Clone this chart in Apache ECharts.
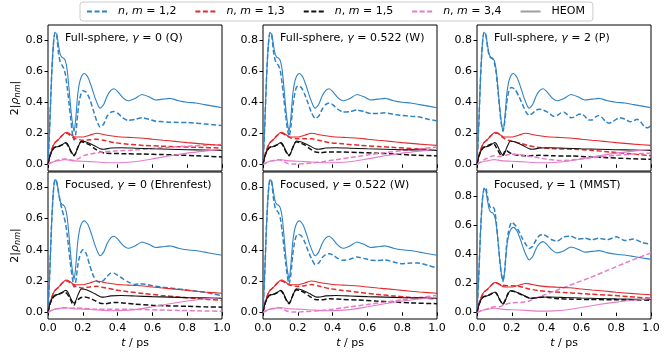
<!DOCTYPE html>
<html>
<head>
<meta charset="utf-8">
<script src="https://cdn.jsdelivr.net/npm/echarts@6/dist/echarts.min.js"></script>
<style>
  html, body { margin: 0; padding: 0; background: #fff; }
  #chart { width: 668px; height: 360px; }
</style>
</head>
<body>
<div id="chart"></div>
<script>
// tick labels
var xTicks = [0, 0.2, 0.4, 0.6, 0.8, 1.0];
var yTicks = [0, 0.2, 0.4, 0.6, 0.8];

// HEOM reference (solid, same in every panel), [t / ps, 2|rho_nm|]
var heom12 = [[0,0],[0.01,0.25],[0.02,0.55],[0.03,0.76],[0.04,0.85],[0.05,0.84],[0.06,0.77],[0.07,0.71],[0.08,0.69],[0.09,0.685],[0.10,0.665],[0.11,0.61],[0.12,0.5],[0.13,0.37],[0.14,0.27],[0.15,0.21],[0.16,0.3],[0.17,0.44],[0.18,0.52],[0.19,0.56],[0.20,0.58],[0.21,0.585],[0.23,0.56],[0.25,0.5],[0.27,0.43],[0.29,0.375],[0.30,0.362],[0.32,0.385],[0.34,0.44],[0.36,0.475],[0.38,0.487],[0.40,0.47],[0.43,0.43],[0.46,0.41],[0.50,0.425],[0.54,0.45],[0.58,0.435],[0.62,0.415],[0.66,0.42],[0.70,0.425],[0.75,0.41],[0.80,0.40],[0.85,0.395],[0.90,0.385],[0.95,0.375],[1.0,0.365]];
var heom13 = [[0,0],[0.01,0.05],[0.02,0.09],[0.03,0.12],[0.04,0.14],[0.06,0.16],[0.08,0.185],[0.10,0.205],[0.11,0.207],[0.12,0.2],[0.13,0.193],[0.14,0.185],[0.15,0.178],[0.17,0.176],[0.20,0.176],[0.24,0.188],[0.28,0.2],[0.30,0.197],[0.34,0.187],[0.40,0.178],[0.46,0.174],[0.53,0.17],[0.60,0.162],[0.66,0.155],[0.73,0.148],[0.80,0.14],[0.90,0.13],[1.0,0.122]];
var heom15 = [[0,0],[0.01,0.05],[0.02,0.08],[0.03,0.10],[0.04,0.11],[0.06,0.115],[0.08,0.125],[0.10,0.14],[0.11,0.135],[0.12,0.115],[0.13,0.09],[0.14,0.07],[0.15,0.058],[0.16,0.075],[0.17,0.105],[0.18,0.13],[0.19,0.15],[0.21,0.147],[0.24,0.135],[0.27,0.118],[0.30,0.1],[0.32,0.097],[0.36,0.105],[0.42,0.107],[0.50,0.104],[0.60,0.1],[0.70,0.097],[0.80,0.094],[0.90,0.092],[1.0,0.09]];
var heom34 = [[0,0],[0.02,0.012],[0.04,0.02],[0.06,0.022],[0.08,0.028],[0.10,0.03],[0.12,0.027],[0.15,0.022],[0.20,0.02],[0.28,0.015],[0.36,0.01],[0.44,0.012],[0.52,0.02],[0.60,0.035],[0.70,0.055],[0.80,0.072],[0.90,0.085],[1.0,0.096]];

// Full-sphere, gamma = 0 (Q)
var fsQ12 = [[0,0],[0.01,0.25],[0.02,0.55],[0.03,0.76],[0.04,0.85],[0.05,0.83],[0.06,0.72],[0.07,0.66],[0.08,0.64],[0.09,0.62],[0.10,0.58],[0.11,0.5],[0.12,0.4],[0.13,0.3],[0.14,0.2],[0.15,0.155],[0.16,0.2],[0.17,0.32],[0.18,0.41],[0.19,0.455],[0.20,0.475],[0.22,0.465],[0.24,0.42],[0.26,0.35],[0.28,0.28],[0.30,0.24],[0.32,0.26],[0.34,0.31],[0.36,0.335],[0.38,0.34],[0.40,0.33],[0.43,0.3],[0.46,0.283],[0.50,0.29],[0.54,0.3],[0.58,0.29],[0.62,0.277],[0.66,0.275],[0.70,0.272],[0.75,0.27],[0.80,0.27],[0.85,0.265],[0.90,0.26],[0.95,0.255],[1.0,0.25]];
var fsQ13 = [[0,0],[0.01,0.05],[0.02,0.09],[0.03,0.12],[0.04,0.14],[0.06,0.16],[0.08,0.185],[0.10,0.2],[0.11,0.2],[0.12,0.193],[0.14,0.175],[0.16,0.165],[0.20,0.155],[0.24,0.158],[0.28,0.162],[0.32,0.155],[0.38,0.14],[0.46,0.13],[0.55,0.122],[0.65,0.117],[0.75,0.113],[0.85,0.11],[1.0,0.105]];
var fsQ15 = [[0,0],[0.01,0.05],[0.02,0.08],[0.03,0.1],[0.04,0.11],[0.06,0.115],[0.08,0.125],[0.10,0.138],[0.11,0.13],[0.12,0.11],[0.13,0.085],[0.14,0.065],[0.15,0.055],[0.16,0.075],[0.17,0.105],[0.18,0.13],[0.19,0.145],[0.21,0.14],[0.24,0.125],[0.27,0.1],[0.30,0.08],[0.33,0.072],[0.38,0.07],[0.45,0.068],[0.55,0.066],[0.65,0.063],[0.75,0.06],[0.85,0.055],[1.0,0.048]];
var fsQ34 = [[0,0],[0.02,0.012],[0.04,0.022],[0.06,0.028],[0.08,0.033],[0.10,0.035],[0.12,0.03],[0.15,0.025],[0.18,0.04],[0.21,0.058],[0.26,0.07],[0.32,0.08],[0.40,0.087],[0.47,0.09],[0.55,0.097],[0.62,0.104],[0.70,0.11],[0.80,0.117],[0.90,0.123],[1.0,0.128]];

// Full-sphere, gamma = 0.522 (W)
var fsW12 = [[0,0],[0.01,0.25],[0.02,0.55],[0.03,0.76],[0.04,0.85],[0.05,0.83],[0.06,0.73],[0.07,0.67],[0.08,0.65],[0.09,0.635],[0.10,0.6],[0.11,0.52],[0.12,0.42],[0.13,0.32],[0.14,0.23],[0.15,0.18],[0.16,0.24],[0.17,0.36],[0.18,0.44],[0.19,0.49],[0.20,0.505],[0.22,0.495],[0.24,0.45],[0.26,0.39],[0.28,0.33],[0.30,0.295],[0.32,0.31],[0.34,0.355],[0.36,0.385],[0.38,0.395],[0.40,0.385],[0.43,0.355],[0.46,0.337],[0.50,0.34],[0.54,0.35],[0.58,0.34],[0.62,0.327],[0.66,0.328],[0.70,0.332],[0.75,0.322],[0.80,0.315],[0.85,0.31],[0.90,0.305],[0.95,0.29],[1.0,0.28]];
var fsW13 = [[0,0],[0.01,0.05],[0.02,0.09],[0.03,0.12],[0.04,0.14],[0.06,0.16],[0.08,0.185],[0.10,0.2],[0.11,0.2],[0.12,0.195],[0.14,0.18],[0.16,0.17],[0.20,0.165],[0.24,0.165],[0.28,0.165],[0.32,0.155],[0.38,0.14],[0.46,0.132],[0.56,0.122],[0.66,0.115],[0.76,0.108],[0.88,0.1],[1.0,0.093]];
var fsW15 = [[0,0],[0.01,0.05],[0.02,0.08],[0.03,0.1],[0.04,0.11],[0.06,0.115],[0.08,0.125],[0.10,0.138],[0.11,0.13],[0.12,0.11],[0.13,0.085],[0.14,0.065],[0.15,0.055],[0.16,0.075],[0.17,0.105],[0.18,0.13],[0.19,0.145],[0.21,0.14],[0.24,0.125],[0.27,0.1],[0.30,0.08],[0.33,0.075],[0.38,0.08],[0.45,0.08],[0.55,0.076],[0.65,0.072],[0.75,0.067],[0.85,0.06],[1.0,0.054]];
var fsW34 = [[0,0],[0.02,0.01],[0.04,0.02],[0.06,0.025],[0.08,0.03],[0.10,0.028],[0.12,0.018],[0.14,0.006],[0.17,0.002],[0.22,0.003],[0.28,0.008],[0.35,0.018],[0.42,0.03],[0.50,0.043],[0.60,0.06],[0.70,0.075],[0.80,0.088],[0.90,0.1],[1.0,0.112]];

// Full-sphere, gamma = 2 (P)
var fsP12 = [[0,0],[0.01,0.25],[0.02,0.55],[0.03,0.76],[0.04,0.85],[0.05,0.84],[0.06,0.76],[0.07,0.70],[0.08,0.685],[0.09,0.68],[0.10,0.655],[0.11,0.59],[0.12,0.48],[0.13,0.36],[0.14,0.26],[0.15,0.215],[0.16,0.28],[0.17,0.39],[0.18,0.46],[0.19,0.49],[0.20,0.495],[0.22,0.48],[0.24,0.44],[0.26,0.39],[0.28,0.34],[0.30,0.315],[0.32,0.33],[0.34,0.35],[0.36,0.355],[0.38,0.35],[0.40,0.34],[0.42,0.325],[0.44,0.31],[0.46,0.315],[0.48,0.33],[0.50,0.335],[0.52,0.32],[0.54,0.3],[0.56,0.305],[0.58,0.32],[0.60,0.325],[0.62,0.31],[0.64,0.285],[0.66,0.285],[0.68,0.305],[0.70,0.315],[0.72,0.3],[0.74,0.275],[0.76,0.265],[0.78,0.275],[0.80,0.29],[0.82,0.3],[0.84,0.295],[0.86,0.285],[0.88,0.275],[0.90,0.28],[0.92,0.29],[0.94,0.275],[0.96,0.245],[0.98,0.235],[1.0,0.25]];
var fsP13 = [[0,0],[0.01,0.05],[0.02,0.09],[0.03,0.12],[0.04,0.14],[0.06,0.16],[0.08,0.185],[0.10,0.2],[0.12,0.2],[0.14,0.18],[0.16,0.165],[0.18,0.155],[0.21,0.145],[0.25,0.135],[0.30,0.12],[0.36,0.108],[0.45,0.1],[0.56,0.097],[0.66,0.09],[0.76,0.08],[0.88,0.068],[1.0,0.055]];
var fsP15 = [[0,0],[0.01,0.05],[0.02,0.08],[0.03,0.1],[0.04,0.11],[0.06,0.12],[0.08,0.13],[0.09,0.135],[0.10,0.13],[0.11,0.11],[0.12,0.09],[0.13,0.07],[0.14,0.055],[0.15,0.06],[0.16,0.085],[0.17,0.09],[0.18,0.08],[0.20,0.068],[0.24,0.058],[0.30,0.055],[0.36,0.058],[0.44,0.055],[0.55,0.053],[0.65,0.048],[0.75,0.043],[0.87,0.037],[1.0,0.032]];
var fsP34 = [[0,0],[0.02,0.015],[0.04,0.03],[0.06,0.04],[0.08,0.05],[0.10,0.055],[0.13,0.05],[0.16,0.058],[0.20,0.065],[0.24,0.063],[0.28,0.055],[0.34,0.045],[0.40,0.033],[0.47,0.025],[0.54,0.027],[0.62,0.038],[0.70,0.048],[0.80,0.058],[0.90,0.066],[1.0,0.073]];

// Focused, gamma = 0 (Ehrenfest)
var foE12 = [[0,0],[0.01,0.25],[0.02,0.55],[0.03,0.76],[0.04,0.85],[0.05,0.83],[0.06,0.77],[0.07,0.71],[0.08,0.66],[0.09,0.62],[0.10,0.575],[0.11,0.5],[0.12,0.4],[0.13,0.3],[0.14,0.22],[0.15,0.16],[0.16,0.2],[0.17,0.29],[0.18,0.35],[0.19,0.385],[0.20,0.4],[0.22,0.375],[0.24,0.3],[0.26,0.235],[0.28,0.2],[0.30,0.19],[0.32,0.205],[0.34,0.23],[0.36,0.25],[0.38,0.25],[0.40,0.237],[0.43,0.215],[0.46,0.195],[0.50,0.178],[0.53,0.183],[0.56,0.18],[0.60,0.17],[0.66,0.16],[0.72,0.153],[0.78,0.145],[0.84,0.137],[0.90,0.128],[0.95,0.118],[1.0,0.105]];
var foE13 = [[0,0],[0.01,0.05],[0.02,0.09],[0.03,0.12],[0.04,0.14],[0.06,0.16],[0.08,0.185],[0.10,0.2],[0.11,0.2],[0.12,0.195],[0.14,0.178],[0.16,0.165],[0.20,0.155],[0.24,0.162],[0.28,0.167],[0.32,0.158],[0.38,0.145],[0.46,0.132],[0.55,0.12],[0.65,0.108],[0.75,0.098],[0.85,0.088],[1.0,0.077]];
var foE15 = [[0,0],[0.01,0.05],[0.02,0.075],[0.03,0.095],[0.04,0.105],[0.06,0.115],[0.08,0.125],[0.09,0.13],[0.10,0.128],[0.11,0.118],[0.12,0.1],[0.13,0.08],[0.14,0.055],[0.15,0.045],[0.16,0.07],[0.17,0.08],[0.19,0.095],[0.21,0.098],[0.24,0.09],[0.27,0.075],[0.30,0.058],[0.33,0.055],[0.38,0.063],[0.43,0.06],[0.50,0.052],[0.60,0.045],[0.70,0.041],[0.80,0.038],[0.90,0.035],[1.0,0.033]];
var foE34 = [[0,0],[0.02,0.012],[0.04,0.02],[0.06,0.024],[0.08,0.027],[0.10,0.028],[0.13,0.026],[0.16,0.028],[0.20,0.025],[0.28,0.02],[0.40,0.02],[0.52,0.018],[0.64,0.015],[0.76,0.012],[0.88,0.009],[1.0,0.006]];

// Focused, gamma = 0.522 (W)
var foW12 = [[0,0],[0.01,0.25],[0.02,0.55],[0.03,0.76],[0.04,0.85],[0.05,0.83],[0.06,0.73],[0.07,0.67],[0.08,0.65],[0.09,0.635],[0.10,0.6],[0.11,0.52],[0.12,0.42],[0.13,0.32],[0.14,0.23],[0.15,0.18],[0.16,0.24],[0.17,0.36],[0.18,0.44],[0.19,0.485],[0.20,0.5],[0.22,0.49],[0.24,0.45],[0.26,0.39],[0.28,0.34],[0.30,0.305],[0.32,0.315],[0.34,0.35],[0.36,0.37],[0.38,0.375],[0.40,0.368],[0.43,0.345],[0.46,0.333],[0.50,0.34],[0.54,0.354],[0.58,0.345],[0.62,0.333],[0.66,0.332],[0.70,0.335],[0.75,0.322],[0.80,0.311],[0.85,0.315],[0.89,0.316],[0.95,0.3],[1.0,0.283]];
var foW13 = [[0,0],[0.01,0.05],[0.02,0.09],[0.03,0.12],[0.04,0.14],[0.06,0.16],[0.08,0.185],[0.10,0.2],[0.11,0.2],[0.12,0.195],[0.14,0.18],[0.16,0.172],[0.20,0.165],[0.24,0.17],[0.28,0.178],[0.32,0.168],[0.38,0.152],[0.46,0.14],[0.55,0.128],[0.65,0.115],[0.75,0.105],[0.85,0.095],[1.0,0.085]];
var foW15 = [[0,0],[0.01,0.05],[0.02,0.08],[0.03,0.1],[0.04,0.11],[0.06,0.115],[0.08,0.125],[0.10,0.138],[0.11,0.13],[0.12,0.11],[0.13,0.085],[0.14,0.065],[0.15,0.055],[0.16,0.075],[0.17,0.105],[0.18,0.13],[0.19,0.145],[0.21,0.14],[0.24,0.125],[0.27,0.1],[0.30,0.082],[0.34,0.08],[0.38,0.087],[0.45,0.083],[0.55,0.078],[0.65,0.072],[0.75,0.066],[0.85,0.06],[1.0,0.055]];
var foW34 = [[0,0],[0.02,0.01],[0.04,0.02],[0.06,0.025],[0.08,0.03],[0.10,0.028],[0.12,0.018],[0.14,0.006],[0.17,0.002],[0.22,0.003],[0.30,0.008],[0.40,0.02],[0.50,0.035],[0.60,0.05],[0.70,0.065],[0.80,0.08],[0.90,0.095],[1.0,0.108]];

// Focused, gamma = 1 (MMST)
var foM12 = [[0,0],[0.01,0.25],[0.02,0.55],[0.03,0.76],[0.04,0.85],[0.05,0.86],[0.06,0.8],[0.07,0.74],[0.08,0.72],[0.09,0.725],[0.10,0.71],[0.11,0.63],[0.12,0.5],[0.13,0.37],[0.14,0.26],[0.15,0.22],[0.16,0.3],[0.17,0.46],[0.18,0.55],[0.19,0.6],[0.20,0.62],[0.22,0.6],[0.24,0.56],[0.26,0.51],[0.28,0.47],[0.30,0.44],[0.32,0.455],[0.34,0.5],[0.36,0.53],[0.38,0.535],[0.40,0.525],[0.43,0.5],[0.46,0.49],[0.50,0.52],[0.54,0.525],[0.58,0.505],[0.62,0.51],[0.66,0.5],[0.70,0.51],[0.75,0.5],[0.80,0.52],[0.85,0.495],[0.90,0.505],[0.95,0.48],[1.0,0.47]];
var foM13 = [[0,0],[0.01,0.05],[0.02,0.09],[0.03,0.12],[0.04,0.14],[0.06,0.16],[0.08,0.185],[0.10,0.205],[0.12,0.2],[0.14,0.19],[0.17,0.185],[0.20,0.185],[0.25,0.178],[0.30,0.162],[0.36,0.15],[0.42,0.144],[0.50,0.138],[0.58,0.132],[0.66,0.126],[0.75,0.12],[0.87,0.11],[1.0,0.098]];
var foM15 = [[0,0],[0.01,0.05],[0.02,0.08],[0.03,0.1],[0.04,0.11],[0.06,0.115],[0.08,0.128],[0.10,0.142],[0.11,0.135],[0.12,0.115],[0.13,0.09],[0.14,0.07],[0.15,0.06],[0.16,0.08],[0.17,0.11],[0.18,0.135],[0.19,0.15],[0.21,0.147],[0.24,0.13],[0.27,0.115],[0.30,0.1],[0.33,0.1],[0.38,0.107],[0.45,0.097],[0.55,0.092],[0.65,0.09],[0.80,0.088],[1.0,0.085]];
var foM34 = [[0,0],[0.02,0.01],[0.04,0.018],[0.06,0.025],[0.08,0.035],[0.10,0.04],[0.13,0.04],[0.16,0.055],[0.20,0.067],[0.25,0.07],[0.30,0.08],[0.35,0.105],[0.45,0.15],[0.56,0.2],[0.65,0.24],[0.75,0.29],[0.85,0.34],[1.0,0.41]];

var pairNames = ['n,m=1,2', 'n,m=1,3', 'n,m=1,5', 'n,m=3,4'];
var pairLabels = ['1,2', '1,3', '1,5', '3,4'];
var colors = ['#2f83c5', '#e4292b', '#111111', '#e67cc6'];

var panels = [
  { title: 'Full-sphere, {i|γ} = 0 (Q)', dashed: [fsQ12, fsQ13, fsQ15, fsQ34], ymin: -0.043, ymax: 0.898 },
  { title: 'Full-sphere, {i|γ} = 0.522 (W)', dashed: [fsW12, fsW13, fsW15, fsW34], ymin: -0.043, ymax: 0.898 },
  { title: 'Full-sphere, {i|γ} = 2 (P)', dashed: [fsP12, fsP13, fsP15, fsP34], ymin: -0.043, ymax: 0.898 },
  { title: 'Focused, {i|γ} = 0 (Ehrenfest)', dashed: [foE12, foE13, foE15, foE34], ymin: -0.043, ymax: 0.898 },
  { title: 'Focused, {i|γ} = 0.522 (W)', dashed: [foW12, foW13, foW15, foW34], ymin: -0.043, ymax: 0.898 },
  { title: 'Focused, {i|γ} = 1 (MMST)', dashed: [foM12, foM13, foM15, foM34], ymin: -0.044, ymax: 0.965 }
];
var heom = [heom12, heom13, heom15, heom34];

var colLeft = [48, 263, 477];
var rowTop = [25, 172];
var rowH = [146, 147];
var font = 'DejaVu Sans';
var italic = { fontStyle: 'italic', fontFamily: font, fontSize: 11, color: '#000' };

var grids = [], xAxes = [], yAxes = [], titles = [], series = [];

// dummy series so that the legend shows a grey HEOM entry
series.push({ name: 'HEOM', type: 'line', xAxisIndex: 0, yAxisIndex: 0, data: [], symbol: 'none',
  lineStyle: { color: '#9e9e9e', width: 1.2 }, itemStyle: { color: '#9e9e9e' } });

panels.forEach(function (p, k) {
  var r = Math.floor(k / 3), c = k % 3;
  grids.push({ left: colLeft[c], top: rowTop[r], width: 174, height: rowH[r],
    show: true, borderColor: '#000', borderWidth: 1, backgroundColor: 'transparent' });
  xAxes.push({
    gridIndex: k, type: 'value', min: 0, max: 1, interval: 0.2,
    axisLine: { show: false },
    axisTick: { show: true, length: 3.5, lineStyle: { color: '#000', width: 1 } },
    axisLabel: { show: r === 1, margin: 4, color: '#000', fontSize: 11, fontFamily: font,
      formatter: function (v) { return v.toFixed(1); } },
    splitLine: { show: false },
    name: r === 1 ? '{i|t} / ps' : '',
    nameLocation: 'middle', nameGap: 19,
    nameTextStyle: { color: '#000', fontSize: 11, fontFamily: font, rich: { i: italic } }
  });
  yAxes.push({
    gridIndex: k, type: 'value', min: p.ymin, max: p.ymax,
    axisLine: { show: false },
    axisTick: { show: true, length: 3.5, customValues: yTicks, lineStyle: { color: '#000', width: 1 } },
    axisLabel: { margin: 5, color: '#000', fontSize: 11, fontFamily: font, customValues: yTicks,
      formatter: function (v) { return v.toFixed(1); } },
    splitLine: { show: false },
    name: c === 0 ? '2|{i|ρ}{s|nm}|' : '',
    nameLocation: 'middle', nameRotate: 90, nameGap: 26,
    nameTextStyle: { color: '#000', fontSize: 11, fontFamily: font,
      rich: { i: italic, s: { fontStyle: 'italic', fontFamily: font, fontSize: 8, color: '#000', padding: [4, 0, 0, 0] } } }
  });
  titles.push({
    text: p.title, left: colLeft[c] + 17, top: rowTop[r] + 8, padding: 0,
    textStyle: { fontSize: 11, fontWeight: 'normal', fontFamily: font, color: '#000', rich: { i: italic } }
  });
  for (var s = 0; s < 4; s++) {
    series.push({
      name: pairNames[s], type: 'line', xAxisIndex: k, yAxisIndex: k, data: p.dashed[s],
      symbol: 'none', smooth: 0.2, z: 2,
      lineStyle: { color: colors[s], width: 1.5, type: [5, 2.5] }, itemStyle: { color: colors[s] }
    });
  }
  for (var h = 0; h < 4; h++) {
    series.push({
      name: 'HEOM ' + pairLabels[h], type: 'line', xAxisIndex: k, yAxisIndex: k, data: heom[h],
      symbol: 'none', smooth: 0.2, z: 3,
      lineStyle: { color: colors[h], width: 1.1 }, itemStyle: { color: colors[h] }
    });
  }
});

var chart = echarts.init(document.getElementById('chart'), null, { renderer: 'canvas' });
chart.setOption({
  animation: false,
  backgroundColor: '#fff',
  title: titles,
  legend: {
    left: 80, top: 2, itemWidth: 20, itemHeight: 8, itemGap: 18,
    borderColor: '#cccccc', borderWidth: 1, borderRadius: 3, padding: [4, 8, 4, 6],
    data: pairNames.concat(['HEOM']),
    itemStyle: { opacity: 0, borderWidth: 0 },
    formatter: function (name) {
      var i = pairNames.indexOf(name);
      if (i < 0) return name;
      return '{i|n}, {i|m} = ' + pairLabels[i];
    },
    textStyle: { fontSize: 11, fontFamily: font, color: '#000', padding: [0, 0, 0, 6], rich: { i: italic } }
  },
  grid: grids,
  xAxis: xAxes,
  yAxis: yAxes,
  series: series
});
</script>
</body>
</html>
